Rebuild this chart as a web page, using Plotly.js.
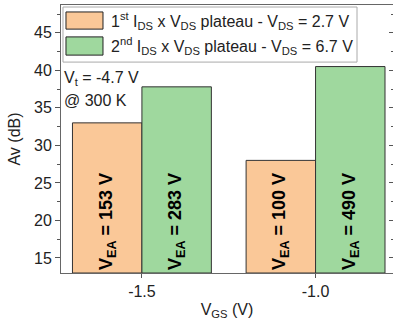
<!DOCTYPE html>
<html><head><meta charset="utf-8">
<script src="https://cdn.plot.ly/plotly-3.0.1.min.js"></script>
<style>html,body{margin:0;padding:0;background:#fff}#c{width:393px;height:325px}</style>
</head><body><div id="c"></div>
<script>
const vgs = [-1.5, -1.0];
const xTickLabels = ['-1.5', '-1.0'];
const av1st = [33.0, 28.0];
const av2nd = [37.8, 40.5];
const vea1st = [153, 100];
const vea2nd = [283, 490];
const legend1 = '1<sup>st</sup> I<sub>DS</sub> x V<sub>DS</sub> plateau - V<sub>DS</sub> = 2.7 V';
const legend2 = '2<sup>nd</sup> I<sub>DS</sub> x V<sub>DS</sub> plateau - V<sub>DS</sub> = 6.7 V';
const yMin = 13, yMax = 48.7;
const orange = 'rgb(250,200,152)';
const green = 'rgb(159,216,158)';
const F = 'Arial, "Liberation Sans", sans-serif';

function barTrace(y, vea, color, name) {
  // bars start at the bottom of the visible axis so the in-bar text sits at the base
  return {
    type: 'bar', x: vgs, y: y.map(v => v - yMin), base: y.map(() => yMin), name: name,
    marker: {color: color, line: {color: '#333', width: 1}},
    text: vea.map(v => 'V<sub>EA</sub> = ' + v + ' V'),
    textposition: 'inside', insidetextanchor: 'start', textangle: -90,
    constraintext: 'none',
    textfont: {family: F, size: 18, color: '#000', weight: 'bold'},
    hoverinfo: 'none', showlegend: false
  };
}

const data = [
  barTrace(av1st, vea1st, orange, '1st'),
  barTrace(av2nd, vea2nd, green, '2nd'),
  {type: 'scatter', x: vgs, y: av1st, yaxis: 'y2', mode: 'none', showlegend: false, hoverinfo: 'none'}
];

const tf = {size: 16, family: F, color: '#222'};
const layout = {
  width: 393, height: 325,
  margin: {l: 61, r: 0, t: 5, b: 52},
  paper_bgcolor: '#fff', plot_bgcolor: '#fff',
  barmode: 'group', bargap: 0.2, bargroupgap: 0,
  showlegend: false,
  font: {family: F, size: 16, color: '#222'},
  xaxis: {
    range: [-1.733, -0.777], tickvals: vgs, ticktext: xTickLabels,
    ticks: 'outside', ticklen: 4, tickcolor: '#555',
    showline: true, linecolor: '#666', linewidth: 1, mirror: true,
    showgrid: false, zeroline: false,
    tickfont: tf,
    title: {text: 'V<sub>GS</sub> (V)', font: tf, standoff: 4}
  },
  yaxis: {
    range: [yMin, yMax], dtick: 5, tick0: 0,
    ticks: 'outside', ticklen: 5, tickcolor: '#555',
    minor: {dtick: 2.5, ticks: 'outside', ticklen: 3, tickcolor: '#555'},
    showline: true, linecolor: '#666', linewidth: 1,
    showgrid: false, zeroline: false,
    tickfont: tf,
    title: {text: 'Av (dB)', font: tf, standoff: 9}
  },
  yaxis2: {
    overlaying: 'y', side: 'right', range: [yMin, yMax], dtick: 5, tick0: 0,
    ticks: 'inside', ticklen: 4, tickcolor: '#555',
    minor: {dtick: 2.5, ticks: 'inside', ticklen: 2, tickcolor: '#555'},
    showticklabels: false, showgrid: false, zeroline: false, showline: false
  },
  shapes: [
    {type: 'rect', xref: 'paper', yref: 'paper', x0: 0.006, x1: 0.8916, y0: 0.787, y1: 0.9925,
     line: {color: '#aaa', width: 1}, fillcolor: '#fff'},
    {type: 'rect', xref: 'paper', yref: 'paper', x0: 0.015, x1: 0.1265, y0: 0.910, y1: 0.974,
     line: {color: '#222', width: 1}, fillcolor: orange},
    {type: 'rect', xref: 'paper', yref: 'paper', x0: 0.015, x1: 0.1265, y0: 0.813, y1: 0.881,
     line: {color: '#222', width: 1}, fillcolor: green}
  ],
  annotations: [
    {xref: 'paper', yref: 'paper', x: 0.1446, y: 0.940, xanchor: 'left', yanchor: 'middle',
     text: legend1, showarrow: false, font: tf},
    {xref: 'paper', yref: 'paper', x: 0.1446, y: 0.847, xanchor: 'left', yanchor: 'middle',
     text: legend2, showarrow: false, font: tf},
    {xref: 'paper', yref: 'paper', x: 0.003, y: 0.7276, xanchor: 'left', yanchor: 'middle',
     text: 'V<sub>t</sub> = -4.7 V', showarrow: false, font: tf},
    {xref: 'paper', yref: 'paper', x: 0.003, y: 0.6455, xanchor: 'left', yanchor: 'middle',
     text: '@ 300 K', showarrow: false, font: tf}
  ]
};

Plotly.newPlot('c', data, layout, {staticPlot: true, displayModeBar: false});
</script></body></html>
